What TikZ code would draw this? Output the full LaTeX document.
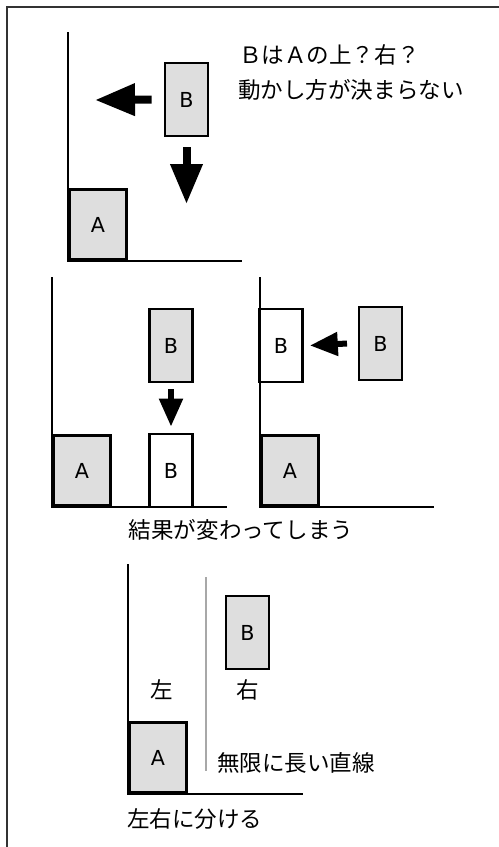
\documentclass[tikz,border=0pt]{standalone}
\usepackage{fontspec}
\setmainfont{Noto Sans CJK JP}
\newfontfamily\latfont{DejaVu Sans}
\usetikzlibrary{arrows.meta}
\definecolor{boxgray}{HTML}{DEDEDE}
\definecolor{sepgray}{HTML}{A8A8A8}

\begin{document}
\begin{tikzpicture}[x=0.75pt, y=-0.75pt,
    axis/.style={line width=2.2pt},
    block/.style={draw, line width=2pt, inner sep=0pt,
      font=\latfont\fontsize{15.5}{17}\selectfont},
    blockA/.style={block, fill=boxgray, minimum width=42.75pt,
      minimum height=52.5pt, anchor=south west},
    blockB/.style={block, fill=boxgray, minimum width=32.25pt,
      minimum height=54.75pt},
    ghostB/.style={blockB, fill=white},
    jtext/.style={inner sep=0pt, font=\fontsize{16.9}{18}\selectfont},
    fatarrow/.style={line width=6pt, -{Triangle[length=30pt, width=23pt]}},
    midarrow/.style={line width=4.5pt, -{Triangle[length=21pt, width=17pt]}}]
    \useasboundingbox (0,0) rectangle (499,847);
    \draw[line width=1.4pt, black!80] (7,847) -- (7,7) -- (499,7);

    % top: which way does B go?
    \draw[axis] (68,32) -- (68,261) -- (242,261);
    \node[blockA] (a1) at (68,261) {A};
    \node[blockB] (b1) at (186.5,99.5) {B};
    \coordinate (l1) at (95,100);
    \coordinate (d1) at (186.5,204);
    \draw[fatarrow] ([xshift=-9pt]b1.west) -- (l1);
    \draw[fatarrow] ([yshift=-7.5pt]b1.south) -- (d1);
    \node[jtext, anchor=west] (q1) at (239,55) {ＢはＡの上？右？};
    \node[jtext, anchor=west] (q2) at (238,90) {動かし方が決まらない};

    % middle left: B falls next to A
    \draw[axis] (52,277) -- (52,507) -- (227,507);
    \node[blockA] (a2) at (52,507) {A};
    \node[blockB] (b2) at (171,345.5) {B};
    \node[ghostB] (b3) at (171,470.5) {B};
    \draw[midarrow] ([yshift=-4.5pt]b2.south) -- ([yshift=4.5pt]b3.north);

    % middle right: B slides onto the wall
    \draw[axis] (260,277) -- (260,507) -- (434,507);
    \node[blockA] (a3) at (260,507) {A};
    \node[ghostB] (b4) at (281,345.5) {B};
    \node[blockB] (b5) at (380.5,343.5) {B};
    \draw[midarrow] ([xshift=-8pt]b5.west) -- ([xshift=4.5pt]b4.east);
    \node[jtext] (c1) at (241,530) {結果が変わってしまう};

    % bottom: split by a line
    \draw[axis] (128,564) -- (128,794) -- (303,794);
    \node[blockA] (a4) at (128,794) {A};
    \node[blockB] (b6) at (247.5,632.5) {B};
    \draw[line width=1.5pt, sepgray] (206,577) -- (206,771);
    \node[jtext] (left) at (162,690) {左};
    \node[jtext] (right) at (248,690) {右};
    \node[jtext, anchor=west] (sep) at (217,763) {無限に長い直線};
    \node[jtext, anchor=west] (c2) at (127,819) {左右に分ける};
\end{tikzpicture}
\end{document}
